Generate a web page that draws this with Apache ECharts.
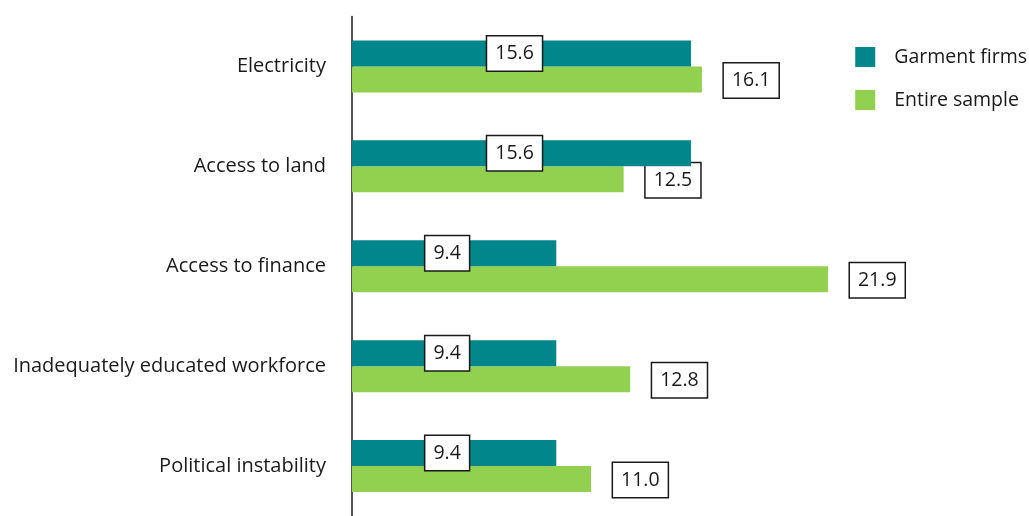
<!DOCTYPE html>
<html>
<head>
<meta charset="utf-8">
<script src="https://cdn.jsdelivr.net/npm/echarts@6/dist/echarts.min.js"></script>
<style>
  html, body { margin: 0; padding: 0; background: #ffffff; }
  #chart { width: 1029px; height: 516px; }
</style>
</head>
<body>
<div id="chart"></div>
<script>
// Obstacles named as the biggest constraint, percent of firms
const categories = [
  'Electricity',
  'Access to land',
  'Access to finance',
  'Inadequately educated workforce',
  'Political instability'
];
const garmentFirms = [15.6, 15.6, 9.4, 9.4, 9.4];
const entireSample = [16.1, 12.5, 21.9, 12.8, 11.0];

const FONT = '"Open Sans", Lato, sans-serif';
const TEAL = '#00868b';
const GREEN = '#92d050';

const boxLabel = {
  show: true,
  formatter: p => p.value.toFixed(1),
  color: '#1a1a1a',
  fontFamily: FONT,
  fontSize: 19.5,
  lineHeight: 20,
  backgroundColor: '#ffffff',
  borderColor: '#1a1a1a',
  borderWidth: 1.5,
  padding: [7, 8, 7, 8]
};

const chart = echarts.init(document.getElementById('chart'), null, { renderer: 'canvas' });
chart.setOption({
  animation: false,
  backgroundColor: '#ffffff',
  grid: { left: 352, width: 652, top: 16.5, height: 505, containLabel: false },
  legend: {
    orient: 'vertical',
    right: 2,
    top: 47,
    padding: 0,
    itemWidth: 20,
    itemHeight: 20,
    itemGap: 23,
    icon: 'rect',
    textStyle: { fontFamily: FONT, fontSize: 19.5, color: '#1a1a1a', padding: [0, 0, 0, 14] },
    data: ['Garment firms', 'Entire sample']
  },
  xAxis: {
    type: 'value',
    min: 0,
    max: 30,
    show: false
  },
  yAxis: {
    type: 'category',
    data: categories,
    inverse: true,
    axisLine: { show: true, lineStyle: { color: '#1a1a1a', width: 1.5 } },
    axisTick: { show: false },
    axisLabel: { fontFamily: FONT, fontSize: 20, color: '#1a1a1a', margin: 26 }
  },
  series: [
    {
      name: 'Garment firms',
      type: 'bar',
      data: garmentFirms,
      barWidth: 26,
      barGap: '0%',
      itemStyle: { color: TEAL },
      label: Object.assign({}, boxLabel, { position: 'inside', offset: [-7, 0] }),
      z: 2
    },
    {
      name: 'Entire sample',
      type: 'bar',
      data: entireSample,
      barWidth: 26,
      barGap: '0%',
      itemStyle: { color: GREEN },
      label: Object.assign({}, boxLabel, { position: 'right', distance: 22, offset: [0, 1] }),
      z: 1
    }
  ]
});
</script>
</body>
</html>
